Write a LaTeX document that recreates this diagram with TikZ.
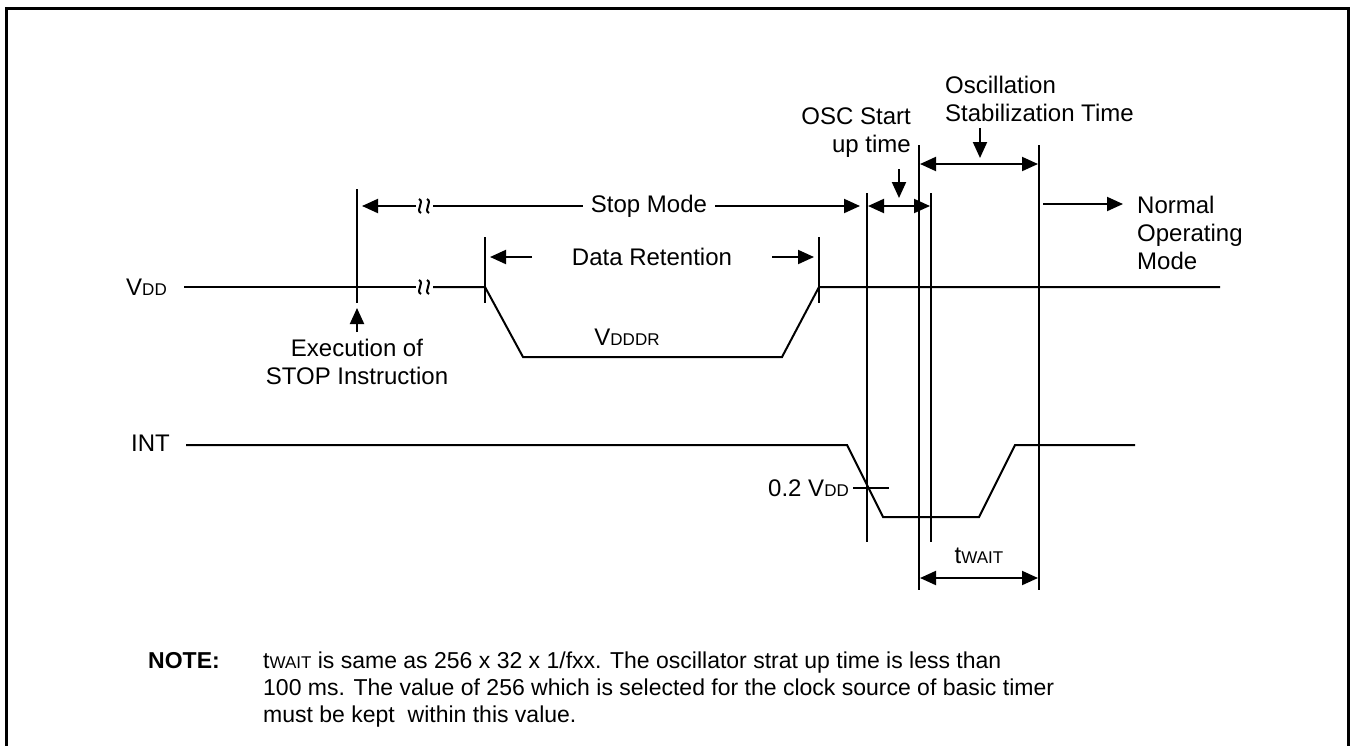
\documentclass[tikz,border=0pt]{standalone}
\usepackage{fontspec}
\setmainfont{Liberation Sans}
\usetikzlibrary{arrows.meta}
\newcommand\sm[1]{{\fontsize{17}{17}\selectfont #1}}
\tikzset{
  wire/.style={line width=2pt},
  dim/.style={line width=2pt,-{Triangle[length=16pt,width=14pt]}},
  dimboth/.style={line width=2pt,{Triangle[length=16pt,width=14pt]}-{Triangle[length=16pt,width=14pt]}},
  lbl/.style={font=\fontsize{24}{28}\selectfont,inner sep=0pt,align=center},
  brk/.style={line width=2pt},
}
\begin{document}
\begin{tikzpicture}[x=1pt,y=-1pt]
\useasboundingbox (0,0) rectangle (1351,745);
% frame
\draw[line width=3pt] (6.5,760) -- (6.5,8.5) -- (1348,8.5) -- (1348,760);

% vertical markers
\coordinate (v1t) at (357,189); \coordinate (v1b) at (357,303);
\coordinate (v2t) at (485,237); \coordinate (v2b) at (485,303);
\coordinate (v3t) at (819,237); \coordinate (v3b) at (819,303);
\coordinate (v4t) at (867,193); \coordinate (v4b) at (867,542);
\coordinate (v5t) at (919,145); \coordinate (v5b) at (919,590);
\coordinate (v6t) at (931,193); \coordinate (v6b) at (931,542);
\coordinate (v7t) at (1039,145); \coordinate (v7b) at (1039,590);
\foreach \a/\b in {v1t/v1b,v2t/v2b,v3t/v3b,v4t/v4b,v5t/v5b,v6t/v6b,v7t/v7b}
  \draw[wire] (\a) -- (\b);

% VDD waveform
\node[lbl,anchor=east] (vdd) at (167,287) {V\sm{DD}};
\coordinate (vb1) at (416,287); \coordinate (vb2) at (433,287);
\draw[wire] (184,287) -- (vb1);
\draw[wire] (vb2) -- (485,287) -- (523,357) -- (782,357) -- (819,287) -- (1220,287);
\node[lbl] (vdddr) at (627,337) {V\sm{DDDR}};

% break marks
\foreach \x/\y in {420/287,428/287,420/206,428/206}
  \draw[brk] (\x-1,\y-7) .. controls (\x+5,\y-4) and (\x-5,\y+4) .. (\x+1,\y+7);

% Stop mode
\draw[dim] (416,206) -- (362,206);
\draw[dim] (433,206) -- (860,206);
\node[lbl,fill=white,inner xsep=8pt,inner ysep=2pt] (stop) at (649,206) {Stop Mode};

% Data retention
\node[lbl] (dr) at (652,257) {Data Retention};
\draw[dim] (532,257) -- (490,257);
\draw[dim] (772,257) -- (814,257);

% Execution of STOP
\draw[dim] (357,332) -- (357,308);
\node[lbl,anchor=north] (exec) at (357,339) {Execution of\\STOP Instruction};

% INT waveform
\node[lbl,anchor=east] (int) at (170,443) {INT};
\draw[wire] (186,445) -- (847,445) -- (883,517) -- (979,517) -- (1015,445) -- (1135,445);
\draw[wire] (853,488) -- (889,488);
\node[lbl,anchor=east] (pt2) at (849,488) {0.2 V\sm{DD}};

% tWAIT
\draw[dimboth] (920,578) -- (1038,578);
\node[lbl] (tw) at (979,556) {t\sm{WAIT}};

% OSC start up time
\node[lbl,anchor=south east,align=right] (osc) at (911,158) {OSC Start\\up time};
\draw[dimboth] (868,206) -- (930,206);
\draw[dim] (899,169) -- (899,198);

% Oscillation stabilization time
\node[lbl,anchor=south west,align=left] (ost) at (945,122) {Oscillation\\Stabilization Time};
\draw[dimboth] (920,164) -- (1038,164);
\draw[dim] (980,128) -- (980,158);

% Normal operating mode
\draw[dim] (1043,204) -- (1123,204);
\node[lbl,anchor=north west,align=left] (nom) at (1137,196) {Normal\\Operating\\Mode};

% Note
\node[anchor=north west,inner sep=0pt,font=\fontsize{23}{27}\selectfont\bfseries] (note) at (148,652) {NOTE:};
\node[anchor=north west,inner sep=0pt,align=left,font=\fontsize{23}{27}\selectfont] (notetxt) at (263,652)
  {t\sm{WAIT} is same as 256 x 32 x 1/fxx. The oscillator strat up time is less than\\
   100 ms. The value of 256 which is selected for the clock source of basic timer\\
   must be kept\ \ within this value.};
\end{tikzpicture}
\end{document}
